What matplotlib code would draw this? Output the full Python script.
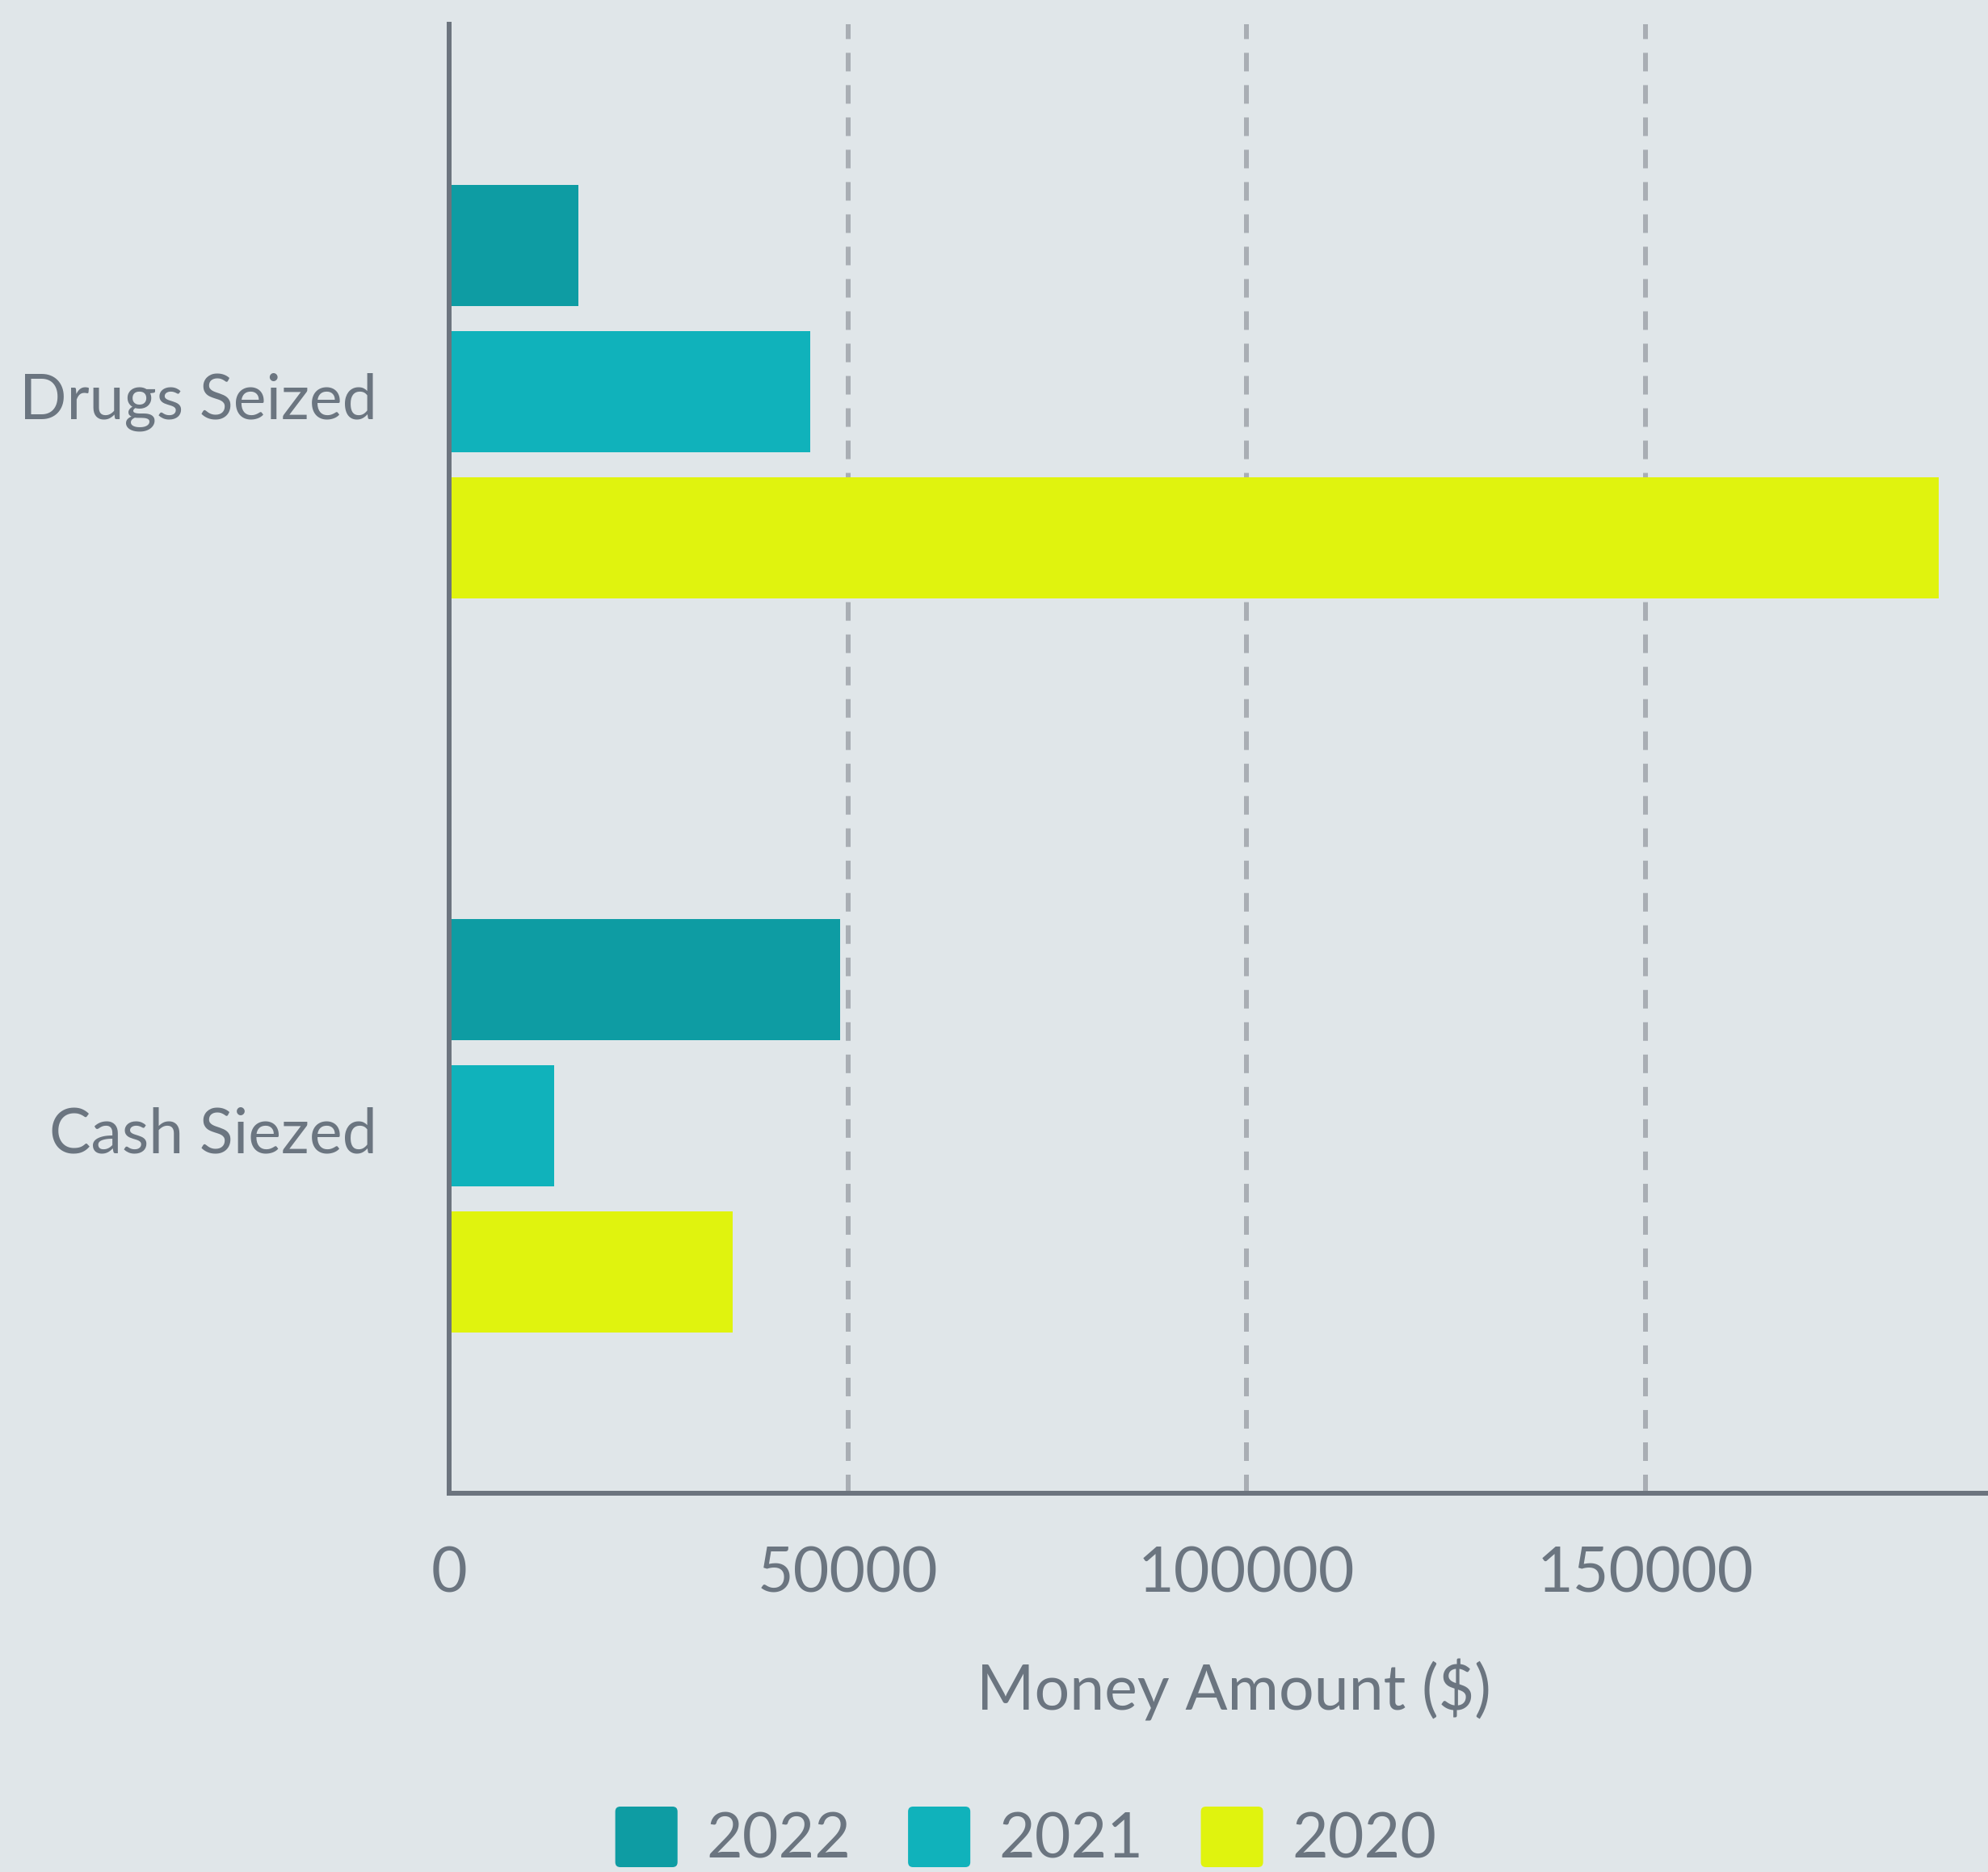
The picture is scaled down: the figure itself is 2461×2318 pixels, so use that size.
import matplotlib
matplotlib.use("Agg")
import matplotlib.pyplot as plt
import numpy as np
from matplotlib.transforms import ScaledTranslation
from matplotlib.legend_handler import HandlerPatch
from matplotlib.patches import FancyBboxPatch, Patch

plt.rcParams['font.family'] = ['Lato', 'DejaVu Sans']

categories = ["Drugs Seized", "Cash Siezed"]
years = ["2022", "2021", "2020"]
values_2022 = [16200, 49000]
values_2021 = [45300, 13150]
values_2020 = [186850, 35600]
x_ticks = [0, 50000, 100000, 150000]
x_label = "Money Amount ($)"

series = [values_2022, values_2021, values_2020]
colors = ["#0E9CA3", "#10B2BB", "#E0F30E"]
BG = "#E0E6E9"
TXT = "#6B7580"
FS = 55.5

fig = plt.figure(figsize=(24.61, 23.18), dpi=100, facecolor=BG)
ax = fig.add_axes([556/2461, 1 - 1849/2318, (2461 - 556)/2461, (1849 - 30)/2318])
ax.set_facecolor(BG)

ypos = np.arange(len(categories))
step = 0.199
height = 0.165
for i, (vals, col, yr) in enumerate(zip(series, colors, years)):
    ax.barh(ypos + (i - 1) * step, vals, height=height, color=col,
            edgecolor='none', label=yr, zorder=3)

ax.set_ylim(1.5, -0.5)
ax.set_xlim(0, 193000)

ax.set_xticks(x_ticks)
ax.set_xticklabels([str(t) for t in x_ticks])
ax.set_yticks(ypos)
ax.set_yticklabels(categories)

ax.xaxis.grid(True, color="#A9AEB4", linewidth=4.3, linestyle=(0, (3.85, 2.85)), zorder=0)
ax.yaxis.grid(False)
ax.set_axisbelow(True)

for s in ['top', 'right']:
    ax.spines[s].set_visible(False)
for s in ['left', 'bottom']:
    ax.spines[s].set_color("#6C747E")
    ax.spines[s].set_linewidth(4.3)
    ax.spines[s].set_zorder(5)

ax.tick_params(axis='x', length=0, pad=47, labelsize=FS, labelcolor=TXT)
ax.tick_params(axis='y', length=0, pad=64, labelsize=FS, labelcolor=TXT)

off = ScaledTranslation(0, -0.05, fig.dpi_scale_trans)
for lab in ax.get_yticklabels():
    lab.set_transform(lab.get_transform() + off)

ax.set_xlabel(x_label, fontsize=FS, color=TXT, labelpad=50, x=0.51)


class RoundHandler(HandlerPatch):
    def create_artists(self, legend, orig_handle, xdescent, ydescent,
                       width, height, fontsize, trans):
        p = FancyBboxPatch((-xdescent, -ydescent), width, height,
                           boxstyle="round,pad=0,rounding_size=%f" % (0.08 * width),
                           facecolor=orig_handle.get_facecolor(),
                           edgecolor='none', transform=trans)
        return [p]


handles = [Patch(facecolor=c, label=y) for c, y in zip(colors, years)]
leg = fig.legend(handles=handles, loc='upper center', bbox_to_anchor=(0.5160, 1 - 2237/2318),
                 ncol=3, frameon=False, fontsize=FS, labelcolor=TXT,
                 handlelength=1.0, handleheight=1.12, handletextpad=0.46,
                 columnspacing=0.92, borderpad=0, borderaxespad=0,
                 handler_map={Patch: RoundHandler()})

fig.savefig("out.png", dpi=100, facecolor=BG)
